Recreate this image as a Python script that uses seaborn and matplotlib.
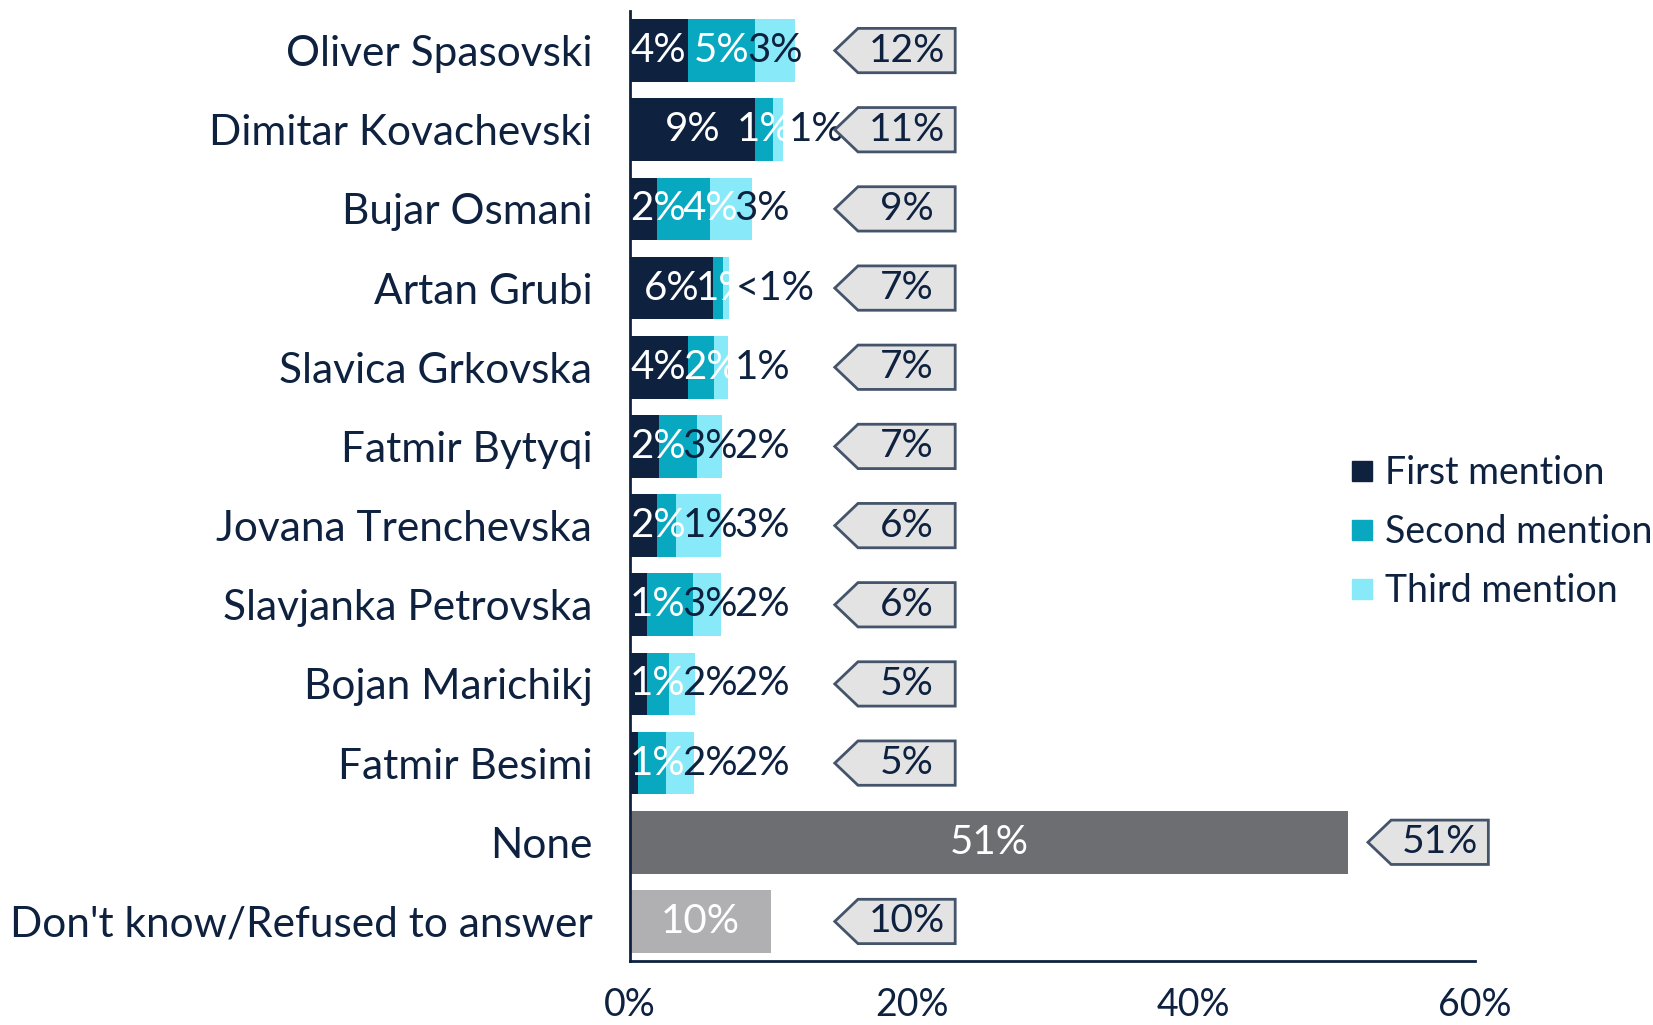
import math
import numpy as np
import pandas as pd
import matplotlib
matplotlib.use("Agg")
import matplotlib.pyplot as plt
import seaborn as sns
from matplotlib.patches import Polygon
from matplotlib.lines import Line2D

# ---------------- data ----------------
categories = ["Oliver Spasovski", "Dimitar Kovachevski", "Bujar Osmani", "Artan Grubi",
              "Slavica Grkovska", "Fatmir Bytyqi", "Jovana Trenchevska",
              "Slavjanka Petrovska", "Bojan Marichikj", "Fatmir Besimi",
              "None", "Don't know/Refused to answer"]
candidates = categories[:10]
first_mention = [4.1, 8.9, 1.9, 5.9, 4.1, 2.1, 1.9, 1.2, 1.2, 0.55]
second_mention = [4.8, 1.3, 3.8, 0.7, 1.85, 2.7, 1.4, 3.3, 1.55, 2.0]
third_mention = [2.85, 0.7, 3.0, 0.45, 1.0, 1.75, 3.15, 1.95, 1.85, 2.0]
other_categories = ["None", "Don't know/Refused to answer"]
other_values = [51, 10]
series_names = ["First mention", "Second mention", "Third mention"]
x_ticks = [0, 20, 40, 60]
x_tick_labels = ["0%", "20%", "40%", "60%"]

# ---------------- style ----------------
NAVY = "#0e2240"
C1, C2, C3 = "#0e2240", "#08a8c1", "#88eaf9"
NONE_C, DK_C = "#6d6e71", "#b0b0b2"
TAG_FILL, TAG_EDGE = "#e3e3e3", "#44546a"

sns.set_style("white")
plt.rcParams["font.family"] = ["Lato", "DejaVu Sans"]
FS = 29
CAT_FS = 30.5


def rnd(v):
    return int(math.floor(v + 0.5 + 1e-9))


def pct(v):
    return "<1%" if v < 0.5 else f"{rnd(v)}%"


df = pd.DataFrame({"cat": candidates, "c1": first_mention,
                   "c2": second_mention, "c3": third_mention})
df["cum1"] = df["c1"]
df["cum2"] = df["c1"] + df["c2"]
df["cum3"] = df["cum2"] + df["c3"]
odf = pd.DataFrame({"cat": other_categories, "val": other_values})

fig = plt.figure(figsize=(16.53, 10.25), dpi=100)
ax = fig.add_axes([0.381, 0.0624, 0.5113, 0.9269])

W = 0.79
common = dict(orient="h", order=categories, width=W, linewidth=0, ax=ax,
              errorbar=None, saturation=1)
sns.barplot(data=df, y="cat", x="cum3", color=C3, **common)
sns.barplot(data=df, y="cat", x="cum2", color=C2, **common)
sns.barplot(data=df, y="cat", x="cum1", color=C1, **common)
sns.barplot(data=odf, y="cat", x="val", hue="cat", palette=[NONE_C, DK_C],
            legend=False, **common)

ax.set_xlim(0, 60)
ax.set_ylim(11.5, -0.5)
ax.set_xlabel("")
ax.set_ylabel("")

# data labels for stacked bars
GAP = 3.7
for i, r in df.iterrows():
    cen1 = r.c1 / 2
    cen2 = r.c1 + r.c2 / 2
    cen3 = r.cum2 + r.c3 / 2
    x1 = max(cen1, 2.0)
    x2 = max(cen2, x1 + GAP)
    x3 = max(cen3, x2 + GAP)
    ax.text(x1, i, pct(r.c1), ha="center", va="center", color="white", fontsize=FS)
    col2 = "white" if x2 <= r.cum2 + 0.5 else NAVY
    ax.text(x2, i, pct(r.c2), ha="center", va="center", color=col2, fontsize=FS)
    ax.text(x3, i, pct(r.c3), ha="center", va="center", color=NAVY, fontsize=FS)

# labels for None / DK
for v, cat in zip(other_values, other_categories):
    i = categories.index(cat)
    ax.text(v / 2, i, f"{v}%", ha="center", va="center", color="white", fontsize=FS)

# total tags
totals = list(df["cum3"]) + other_values
tip_common = max(df["cum3"]) + 2.8
tag_h = 0.56
arrow_w = 1.65
body_w = 6.9
for i, t in enumerate(totals):
    tip = max(tip_common, t + 1.4)
    base = tip + arrow_w
    right = base + body_w
    pts = [(tip, i), (base, i - tag_h / 2), (right, i - tag_h / 2),
           (right, i + tag_h / 2), (base, i + tag_h / 2)]
    ax.add_patch(Polygon(pts, closed=True, facecolor=TAG_FILL, edgecolor=TAG_EDGE,
                         linewidth=2, clip_on=False, zorder=3))
    ax.text((base + right) / 2, i, f"{rnd(t)}%", ha="center", va="center",
            color=NAVY, fontsize=FS - 1, zorder=4, clip_on=False)

# axes styling
for s in ["top", "right"]:
    ax.spines[s].set_visible(False)
for s in ["left", "bottom"]:
    ax.spines[s].set_color(NAVY)
    ax.spines[s].set_linewidth(2)
ax.set_yticks(range(len(categories)))
ax.set_yticklabels(categories)
ax.set_yticks(np.arange(-0.5, len(categories), 1.0), minor=True)
ax.tick_params(axis="y", which="major", length=0, pad=27, labelsize=CAT_FS, labelcolor=NAVY)
ax.tick_params(axis="y", which="minor", length=9.5, width=2, color=NAVY)
ax.set_xticks(x_ticks)
ax.set_xticklabels(x_tick_labels)
ax.tick_params(axis="x", which="major", length=7.5, width=1.5, color=NAVY,
               pad=11, labelsize=27, labelcolor=NAVY)
ax.grid(False)

handles = [Line2D([], [], marker="s", linestyle="", markersize=15,
                  markerfacecolor=c, markeredgecolor=c) for c in (C1, C2, C3)]
fig.legend(handles, series_names, loc="upper left",
           bbox_to_anchor=(1336 / 1653, 1 - 440 / 1025), frameon=False,
           fontsize=27, handletextpad=0.3, labelspacing=0.62,
           labelcolor=NAVY, borderaxespad=0, handlelength=0.6)

fig.savefig("out.png", dpi=100)
